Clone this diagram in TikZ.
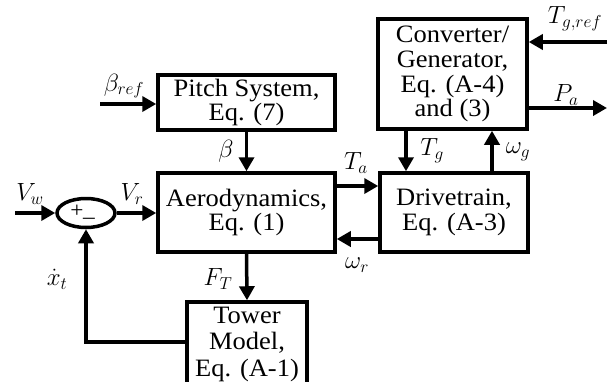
\documentclass[tikz,border=0pt]{standalone}
\usepackage{fontspec}
\setmainfont{Liberation Serif}[FakeStretch=1.06]
\usetikzlibrary{arrows.meta,shapes.geometric}
\begin{document}
\begin{tikzpicture}[x=1pt,y=-1pt,
  box/.style={draw,line width=3.5pt,align=center,inner sep=0pt,
    font=\fontsize{25}{24.8}\selectfont},
  arr/.style={line width=3.5pt,-{Triangle[length=14pt,width=15pt]}},
  lab/.style={font=\fontsize{26}{28}\selectfont,inner sep=0pt}]
\useasboundingbox (0,0) rectangle (613,381);
\node[box,minimum width=177pt,minimum height=55pt] (pitch) at (246.5,102.5) {Pitch System,\\Eq. (7)};
\node[box,minimum width=149pt,minimum height=110pt] (conv) at (452.5,74) {Converter/\\Generator,\\Eq. (A-4)\\and (3)};
\node[box,minimum width=177pt,minimum height=79pt] (aero) at (246.5,212.5) {Aerodynamics,\\Eq. (1)};
\node[box,minimum width=148pt,minimum height=79pt] (drive) at (454,212.5) {Drivetrain,\\Eq. (A-3)};
\node[box,minimum width=120pt,minimum height=84pt,font=\fontsize{25}{26.5}\selectfont] (tower) at (247,344) {Tower\\Model,\\Eq. (A-1)};
\node[draw,ellipse,line width=3.5pt,minimum width=58pt,minimum height=29pt,inner sep=0pt] (sum) at (86,213) {};
\node[font=\fontsize{22}{24}\selectfont,inner sep=0pt] (plus) at (77,211) {+};
\node[font=\fontsize{22}{24}\selectfont,inner sep=0pt] (minus) at (89,218) {\_};
\coordinate (vwin) at (15,213);
\coordinate (bref) at (100,104);
\coordinate (tgref) at (607,42);
\coordinate (paout) at (607,108);
% connectors
\draw[arr] (vwin) -- (sum.west);
\draw[arr] (sum.east) -- (aero.west |- sum.east);
\draw[arr] (bref) -- (pitch.west |- bref);
\draw[arr] (pitch.south) -- (aero.north);
\draw[arr] (aero.south) -- (tower.north);
\draw[arr] (tower.west |- 0,342) -| (sum.south);
\draw[arr] (aero.east |- 0,186) -- (drive.west |- 0,186);
\draw[arr] (drive.west |- 0,239) -- (aero.east |- 0,239);
\draw[arr] (conv.south -| 406,0) -- (drive.north -| 406,0);
\draw[arr] (drive.north -| 492,0) -- (conv.south -| 492,0);
\draw[arr] (tgref) -- (conv.east |- tgref);
\draw[arr] (conv.east |- paout) -- (paout);
% labels
\node[lab] (lvw) at (30,194) {$V_w$};
\node[lab] (lvr) at (132,194) {$V_r$};
\node[lab] (lbref) at (124,86) {$\beta_{ref}$};
\node[lab] (lbeta) at (226,151) {$\beta$};
\node[lab] (lft) at (218,279) {$F_T$};
\node[lab] (lxt) at (57,279) {$\dot{x}_t$};
\node[lab] (lta) at (356,163) {$T_a$};
\node[lab] (lwr) at (357,265) {$\omega_r$};
\node[lab] (ltg) at (432,151) {$T_g$};
\node[lab] (lwg) at (518,152) {$\omega_g$};
\node[lab] (ltgref) at (575,19) {$T_{g,ref}$};
\node[lab] (lpa) at (566,95) {$P_a$};
\end{tikzpicture}
\end{document}
